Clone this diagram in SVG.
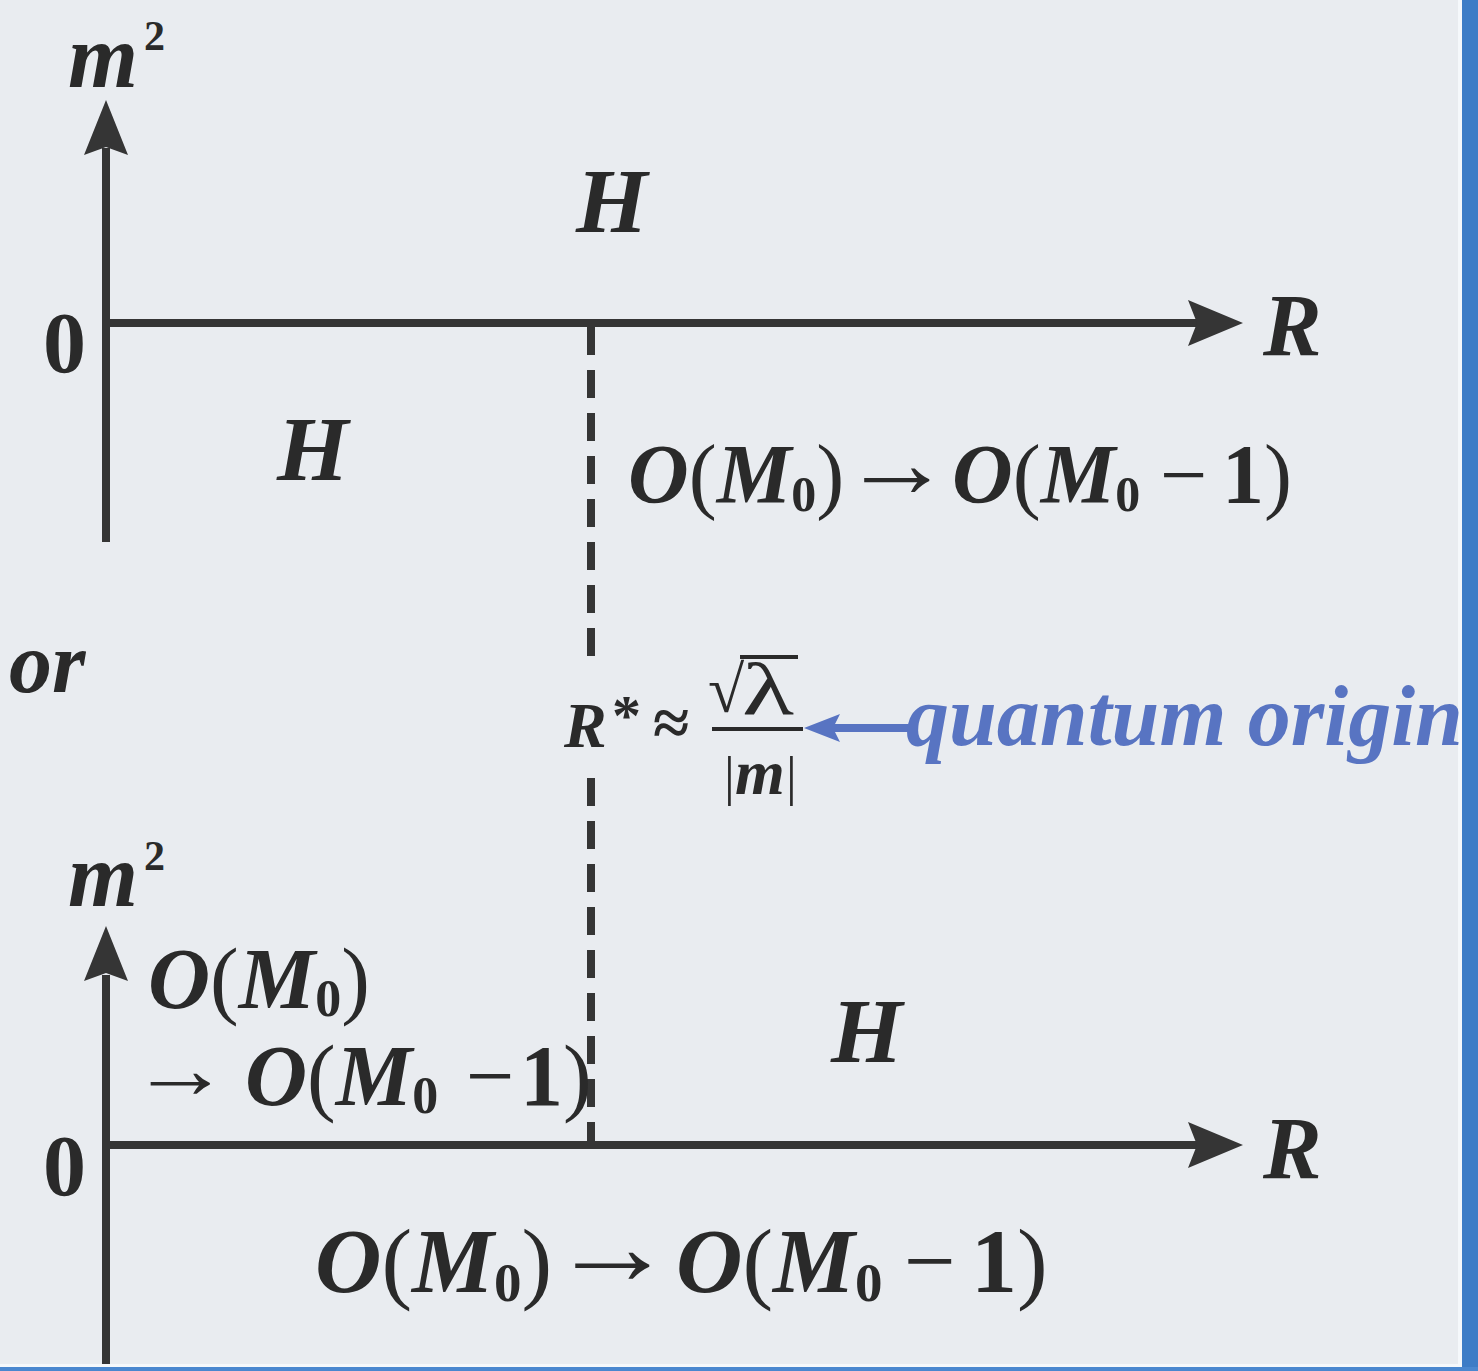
<svg xmlns="http://www.w3.org/2000/svg" width="1478" height="1371" viewBox="0 0 1478 1371">
<style>
.t{font-family:"Liberation Serif","Times New Roman",serif;fill:#2a2a2a}
.bi{font-weight:bold;font-style:italic}
.r{font-weight:normal;font-style:normal}
.b{font-weight:bold;font-style:normal}
.blue{fill:#5874c2}
.axis{stroke:#353535;stroke-width:8;fill:none}
.dash{stroke:#353535;stroke-width:8;fill:none;stroke-dasharray:28 15}
.head{fill:#353535}
</style>
<rect x="0" y="0" width="1478" height="1371" fill="#e9ecf0"/>
<g id="frame">
<rect x="1458" y="0" width="4" height="1371" fill="#f5f8fb"/>
<rect x="1462" y="0" width="16" height="1371" fill="#3d7cc6"/>
<rect x="0" y="1364" width="1462" height="3" fill="#f5f8fb"/>
<rect x="0" y="1367" width="1478" height="4" fill="#4a87cf"/>
</g>
<g id="connectors">
<line class="axis" x1="106" y1="148" x2="106" y2="542"/>
<polygon class="head" points="106,100 84,155 106,147 128,155"/>
<line class="axis" x1="102" y1="323" x2="1200" y2="323"/>
<polygon class="head" points="1243,323 1188,300 1197,323 1188,346"/>
<line class="dash" x1="591" y1="327" x2="591" y2="657"/>
<line class="dash" x1="591" y1="778" x2="591" y2="1143"/>
<line class="axis" x1="106" y1="975" x2="106" y2="1364"/>
<polygon class="head" points="106,926 84,981 106,973 128,981"/>
<line class="axis" x1="102" y1="1145" x2="1200" y2="1145"/>
<polygon class="head" points="1243,1145 1188,1122 1197,1145 1188,1168"/>
<line x1="832" y1="728" x2="908" y2="728" stroke="#5874c2" stroke-width="8"/>
<polygon points="804,728 840,714 833,728 840,742" fill="#5874c2"/>
</g>
<g id="top-axis-labels">
<text class="t bi" x="68" y="87" font-size="90">m</text>
<text class="t b" x="144" y="50" font-size="42">2</text>
<text class="t b" x="43" y="372" font-size="86">0</text>
<text class="t bi" x="1263" y="355" font-size="88">R</text>
</g>
<g id="top-H-upper"><text class="t bi" x="576" y="232" font-size="92">H</text></g>
<g id="top-H-left"><text class="t bi" x="277" y="480" font-size="92">H</text></g>
<g id="top-transition">
<text class="t" y="503" font-size="84"><tspan class="bi" x="628">O</tspan><tspan class="r">(</tspan><tspan class="bi">M</tspan><tspan class="b" font-size="50" dy="8">0</tspan><tspan class="r" dy="-8">)</tspan></text>
<text class="t r" x="842" y="497" font-size="100" textLength="110" lengthAdjust="spacingAndGlyphs">→</text>
<text class="t" y="503" font-size="84"><tspan class="bi" x="952">O</tspan><tspan class="r">(</tspan><tspan class="bi">M</tspan><tspan class="b" font-size="50" dy="8">0</tspan><tspan class="r" x="1160" dy="-8">−</tspan><tspan class="b" x="1222">1</tspan><tspan class="r">)</tspan></text>
</g>
<g id="or-label"><text class="t bi" x="9" y="692" font-size="86">or</text></g>
<g id="critical-radius">
<text class="t bi" x="564" y="747" font-size="64">R</text>
<text class="t b" x="612" y="735" font-size="58">*</text>
<text class="t b" x="653" y="745" font-size="66">≈</text>
<text class="t r" x="708" y="712" font-size="66">√</text>
<line x1="740" y1="657" x2="798" y2="657" stroke="#2a2a2a" stroke-width="4"/>
<text class="t r" x="742" y="714" font-size="74" textLength="52" lengthAdjust="spacingAndGlyphs">λ</text>
<line x1="712" y1="729" x2="803" y2="729" stroke="#2a2a2a" stroke-width="4"/>
<text class="t r" y="794" font-size="54"><tspan x="724">|</tspan><tspan class="bi" font-size="64" x="735">m</tspan><tspan x="786">|</tspan></text>
</g>
<g id="quantum-origin"><text class="t bi blue" x="906" y="745" font-size="86">quantum origin</text></g>
<g id="bottom-axis-labels">
<text class="t bi" x="68" y="906" font-size="90">m</text>
<text class="t b" x="144" y="870" font-size="42">2</text>
<text class="t b" x="43" y="1195" font-size="86">0</text>
<text class="t bi" x="1263" y="1178" font-size="88">R</text>
</g>
<g id="bottom-left-transition">
<text class="t" y="1008" font-size="86"><tspan class="bi" x="148">O</tspan><tspan class="r">(</tspan><tspan class="bi">M</tspan><tspan class="b" font-size="52" dy="8">0</tspan><tspan class="r" dy="-8">)</tspan></text>
<text class="t r" x="130" y="1098" font-size="86" textLength="100" lengthAdjust="spacingAndGlyphs">→</text>
<text class="t" y="1105" font-size="86"><tspan class="bi" x="245">O</tspan><tspan class="r">(</tspan><tspan class="bi">M</tspan><tspan class="b" font-size="52" dy="8">0</tspan><tspan class="r" x="466" dy="-8">−</tspan><tspan class="b" x="520">1</tspan><tspan class="r">)</tspan></text>
</g>
<g id="bottom-H"><text class="t bi" x="831" y="1062" font-size="92">H</text></g>
<g id="bottom-transition">
<text class="t" y="1292" font-size="92"><tspan class="bi" x="315">O</tspan><tspan class="r">(</tspan><tspan class="bi">M</tspan><tspan class="b" font-size="55" dy="9">0</tspan><tspan class="r" dy="-9">)</tspan></text>
<text class="t r" x="550" y="1284" font-size="110" textLength="125" lengthAdjust="spacingAndGlyphs">→</text>
<text class="t" y="1292" font-size="92"><tspan class="bi" x="676">O</tspan><tspan class="r">(</tspan><tspan class="bi">M</tspan><tspan class="b" font-size="55" dy="9">0</tspan><tspan class="r" x="904" dy="-9">−</tspan><tspan class="b" x="971">1</tspan><tspan class="r">)</tspan></text>
</g>
</svg>
